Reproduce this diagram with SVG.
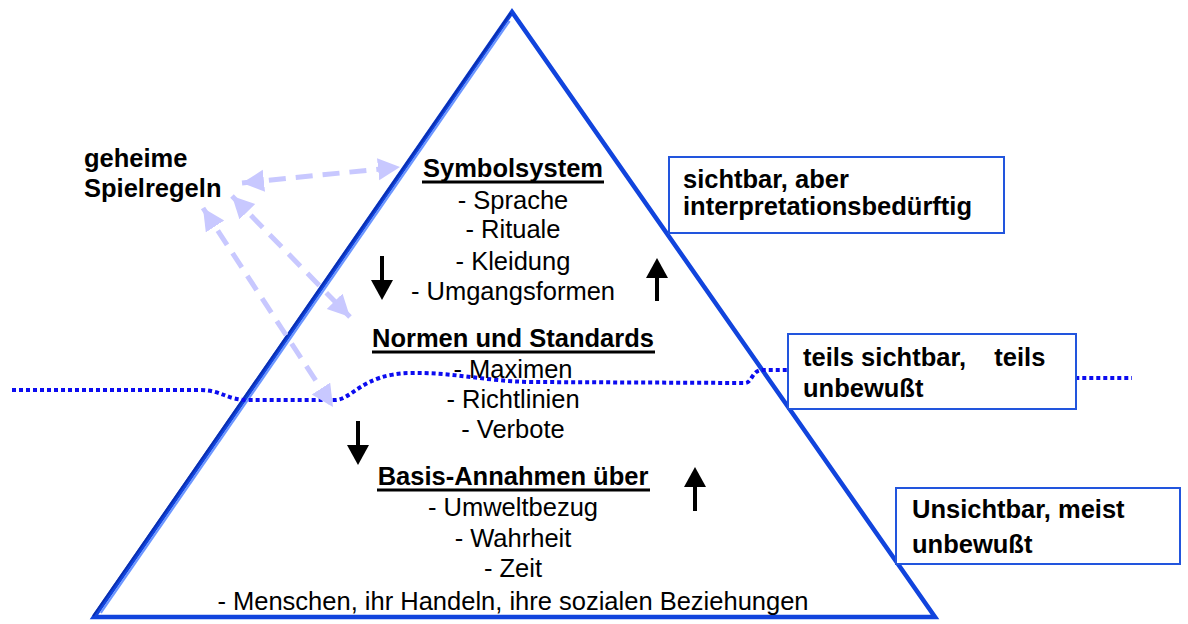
<svg xmlns="http://www.w3.org/2000/svg" width="1188" height="624" viewBox="0 0 1188 624">
  <style>
    text { font-family: "Liberation Sans", Arial, sans-serif; font-size: 25.5px; fill: #000; }
    .b { font-weight: bold; }
    .c { text-anchor: middle; }
    .box { fill: #fff; stroke: #2255dd; stroke-width: 2; }
    .ul { stroke: #000; stroke-width: 3; }
    .secret { fill: none; stroke: #c8c8ff; stroke-width: 5; stroke-dasharray: 17 10; marker-start: url(#lav); marker-end: url(#lav); }
    .flow { stroke: #000; stroke-width: 4; }
  </style>
  <defs>
    <marker id="lav" markerUnits="userSpaceOnUse" markerWidth="24" markerHeight="24" refX="22" refY="11" orient="auto-start-reverse">
      <path d="M0,0 L22,11 L0,22 Z" fill="#c8c8ff"/>
    </marker>
  </defs>

  <rect width="1188" height="624" fill="#fff"/>

  <!-- pyramid -->
  <g id="pyramid">
    <path d="M512,12 L94,617 L935,617 Z" fill="#fff" stroke="#1144dd" stroke-width="4.5" stroke-linejoin="miter"/>
    <line x1="509.6" y1="21" x2="100.8" y2="612.8" stroke="#6c96ff" stroke-width="2.2"/>
    <line x1="510.5" y1="13" x2="93" y2="616" stroke="#0a2fb0" stroke-width="2"/>
  </g>

  <!-- visibility boundary -->
  <path id="waterline" d="M12,390 L200,390 C222,390 226,400 248,400 L335,400 C352,400 362,374 410,373 C452,372 484,381 530,382 L745,383 C752,383 752,370 762,370 L860,370 C871,370 874,378 886,378 L1132,378" fill="none" stroke="#0c0cf0" stroke-width="4" stroke-dasharray="4 3"/>

  <!-- pyramid levels -->
  <g id="level-symbols">
    <text class="b c" x="513" y="177">Symbolsystem</text>
    <line class="ul" x1="422" y1="182" x2="604" y2="182"/>
    <text class="c" x="513" y="209">- Sprache</text>
    <text class="c" x="513" y="238">- Rituale</text>
    <text class="c" x="513" y="270">- Kleidung</text>
    <text class="c" x="513" y="300">- Umgangsformen</text>
  </g>
  <g id="level-norms">
    <text class="b c" x="513" y="347">Normen und Standards</text>
    <line class="ul" x1="372" y1="352" x2="655" y2="352"/>
    <text class="c" x="513" y="378">- Maximen</text>
    <text class="c" x="513" y="408">- Richtlinien</text>
    <text class="c" x="513" y="438">- Verbote</text>
  </g>
  <g id="level-basics">
    <text class="b c" x="513" y="485">Basis-Annahmen über</text>
    <line class="ul" x1="377" y1="490" x2="650" y2="490"/>
    <text class="c" x="513" y="516">- Umweltbezug</text>
    <text class="c" x="513" y="547">- Wahrheit</text>
    <text class="c" x="513" y="577">- Zeit</text>
    <text class="c" x="513" y="610">- Menschen, ihr Handeln, ihre sozialen Beziehungen</text>
  </g>

  <!-- side labels -->
  <g id="label-visible">
    <rect class="box" x="669" y="157" width="335" height="76"/>
    <text class="b" x="683" y="188">sichtbar, aber</text>
    <text class="b" x="683" y="215">interpretationsbedürftig</text>
  </g>
  <g id="label-partly">
    <rect class="box" x="788" y="334" width="288" height="75"/>
    <text class="b" x="803" y="366" style="white-space:pre">teils sichtbar,    teils</text>
    <text class="b" x="803" y="397">unbewußt</text>
  </g>
  <g id="label-invisible">
    <rect class="box" x="896" y="488" width="284" height="76"/>
    <text class="b" x="912" y="518">Unsichtbar, meist</text>
    <text class="b" x="912" y="553">unbewußt</text>
  </g>
  <g id="secret-rules">
    <text class="b" x="84" y="167">geheime</text>
    <text class="b" x="84" y="197">Spielregeln</text>
  </g>

  <!-- connectors -->
  <g id="connectors">
    <line class="secret" x1="242" y1="183" x2="400" y2="167"/>
    <line class="secret" x1="232" y1="196" x2="350" y2="317"/>
    <line class="secret" x1="203" y1="208" x2="333" y2="407"/>

    <line class="flow" x1="382" y1="256" x2="382" y2="284"/>
    <path d="M371,280 L393,280 L382,300 Z"/>
    <line class="flow" x1="657" y1="274" x2="657" y2="301"/>
    <path d="M646,278 L668,278 L657,258 Z"/>
    <line class="flow" x1="358" y1="421" x2="358" y2="449"/>
    <path d="M347,445 L369,445 L358,465 Z"/>
    <line class="flow" x1="695" y1="483" x2="695" y2="511"/>
    <path d="M684,487 L706,487 L695,467 Z"/>
  </g>
</svg>
